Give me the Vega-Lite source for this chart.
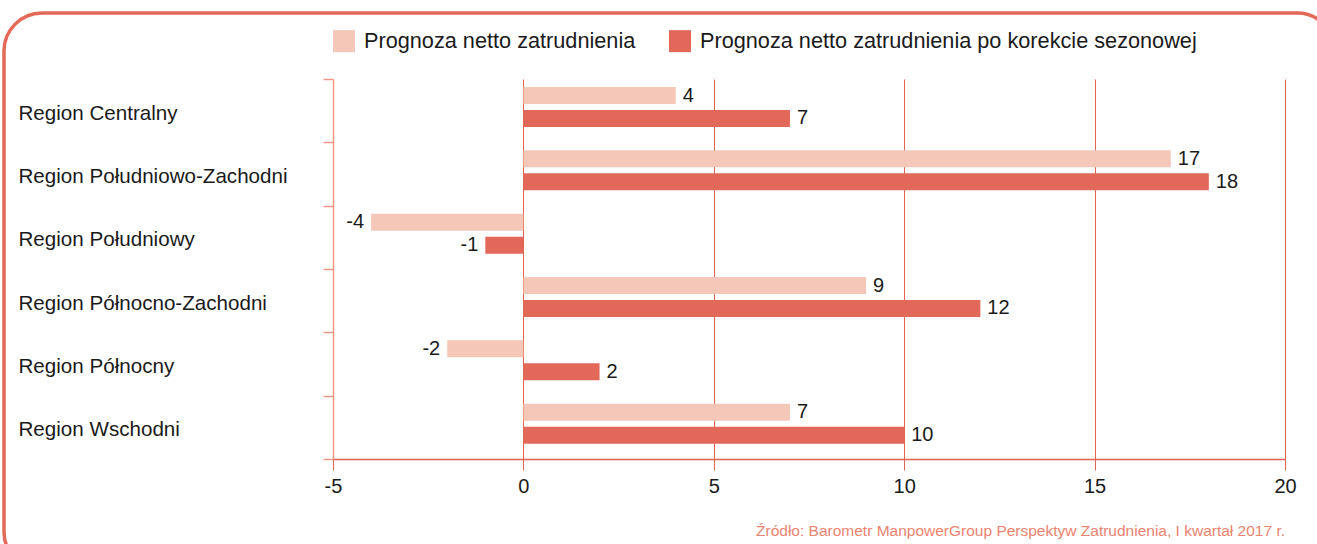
{
  "$schema": "https://vega.github.io/schema/vega-lite/v6.json",
  "width": 1331,
  "height": 557,
  "autosize": {"type": "none"},
  "padding": {"left": 4, "top": 13, "right": 0, "bottom": 0},
  "background": "white",
  "config": {
    "font": "Liberation Sans",
    "locale": {"number": {"decimal": ".", "thousands": ",", "grouping": [3], "currency": ["", ""], "minus": "-"}},
    "view": {"stroke": "#e36a58", "strokeWidth": 3.5, "cornerRadius": 38}
  },
  "title": {
    "text": "Źródło: Barometr ManpowerGroup Perspektyw Zatrudnienia, I kwartał 2017 r.",
    "orient": "bottom",
    "anchor": "end",
    "offset": -46,
    "dx": -50,
    "fontSize": 15.5,
    "fontWeight": "normal",
    "color": "#ea8370",
    "font": "Liberation Sans"
  },
  "data": {
    "values": [
      {"region": "Region Centralny", "series": "Prognoza netto zatrudnienia", "value": 4},
      {"region": "Region Centralny", "series": "Prognoza netto zatrudnienia po korekcie sezonowej", "value": 7},
      {"region": "Region Południowo-Zachodni", "series": "Prognoza netto zatrudnienia", "value": 17},
      {"region": "Region Południowo-Zachodni", "series": "Prognoza netto zatrudnienia po korekcie sezonowej", "value": 18},
      {"region": "Region Południowy", "series": "Prognoza netto zatrudnienia", "value": -4},
      {"region": "Region Południowy", "series": "Prognoza netto zatrudnienia po korekcie sezonowej", "value": -1},
      {"region": "Region Północno-Zachodni", "series": "Prognoza netto zatrudnienia", "value": 9},
      {"region": "Region Północno-Zachodni", "series": "Prognoza netto zatrudnienia po korekcie sezonowej", "value": 12},
      {"region": "Region Północny", "series": "Prognoza netto zatrudnienia", "value": -2},
      {"region": "Region Północny", "series": "Prognoza netto zatrudnienia po korekcie sezonowej", "value": 2},
      {"region": "Region Wschodni", "series": "Prognoza netto zatrudnienia", "value": 7},
      {"region": "Region Wschodni", "series": "Prognoza netto zatrudnienia po korekcie sezonowej", "value": 10}
    ]
  },
  "encoding": {
    "y": {
      "field": "region",
      "type": "nominal",
      "sort": null,
      "scale": {"range": [66, 446], "paddingInner": 0, "paddingOuter": 0},
      "axis": {
        "title": null,
        "offset": -329,
        "tickBand": "extent",
        "grid": false,
        "domainColor": "#f19887",
        "domainWidth": 1.5,
        "tickColor": "#f19887",
        "tickWidth": 1.5,
        "tickSize": 10,
        "labelAlign": "left",
        "labelPadding": 305,
        "labelOffset": 2.5,
        "labelLimit": 500,
        "labelFontSize": 20.6,
        "labelColor": "#1a1a1a",
        "labelFont": "Liberation Sans"
      }
    },
    "yOffset": {
      "field": "series",
      "type": "nominal",
      "scale": {"range": [8, 48], "paddingInner": 0.26, "paddingOuter": 0}
    }
  },
  "layer": [
    {
      "mark": {"type": "bar", "orient": "horizontal"},
      "encoding": {
        "x": {
          "field": "value",
          "type": "quantitative",
          "scale": {"domain": [-5, 20], "range": [329, 1281], "nice": false, "zero": false},
          "axis": {
            "title": null,
            "orient": "bottom",
            "offset": -111,
            "values": [-5, 0, 5, 10, 15, 20],
            "format": "d",
            "grid": false,
            "labelFlush": false,
            "labelOverlap": false,
            "domainColor": "#e4624f",
            "domainWidth": 1.5,
            "tickColor": "#e4624f",
            "tickSize": 11,
            "labelPadding": 6,
            "labelFontSize": 20,
            "labelColor": "#1a1a1a",
            "labelFont": "Liberation Sans"
          }
        },
        "color": {
          "field": "series",
          "type": "nominal",
          "scale": {"range": ["#f5c7b8", "#e2695a"]},
          "legend": {
            "title": null,
            "orient": "none",
            "direction": "horizontal",
            "legendX": 329,
            "legendY": 17,
            "padding": 0,
            "symbolType": "square",
            "symbolSize": 484,
            "symbolStrokeWidth": 0,
            "symbolOpacity": 1,
            "labelOffset": 9,
            "columnPadding": 33,
            "labelFontSize": 21.7,
            "labelColor": "#1a1a1a",
            "labelFont": "Liberation Sans",
            "labelLimit": 700
          }
        }
      }
    },
    {
      "transform": [{"filter": "datum.value >= 0"}],
      "mark": {"type": "text", "align": "left", "baseline": "middle", "dx": 7, "fontSize": 20, "color": "#1a1a1a"},
      "encoding": {
        "x": {
          "field": "value",
          "type": "quantitative",
          "scale": {"domain": [-5, 20], "range": [329, 1281], "nice": false, "zero": false},
          "axis": {
            "orient": "top",
            "offset": 0,
            "title": null,
            "values": [-5, 0, 5, 10, 15, 20],
            "grid": true,
            "gridColor": {"condition": {"test": "datum.value === -5", "value": "transparent"}, "value": "#e4624f"},
            "gridWidth": 1,
            "domain": false,
            "ticks": false,
            "labels": false
          }
        },
        "text": {"field": "value", "type": "quantitative", "format": "d"}
      }
    },
    {
      "transform": [{"filter": "datum.value < 0"}],
      "mark": {"type": "text", "align": "right", "baseline": "middle", "dx": -7, "fontSize": 20, "color": "#1a1a1a"},
      "encoding": {
        "x": {
          "field": "value",
          "type": "quantitative",
          "scale": {"domain": [-5, 20], "range": [329, 1281], "nice": false, "zero": false},
          "axis": null
        },
        "text": {"field": "value", "type": "quantitative", "format": "d"}
      }
    }
  ],
  "resolve": {"axis": {"x": "independent"}}
}
